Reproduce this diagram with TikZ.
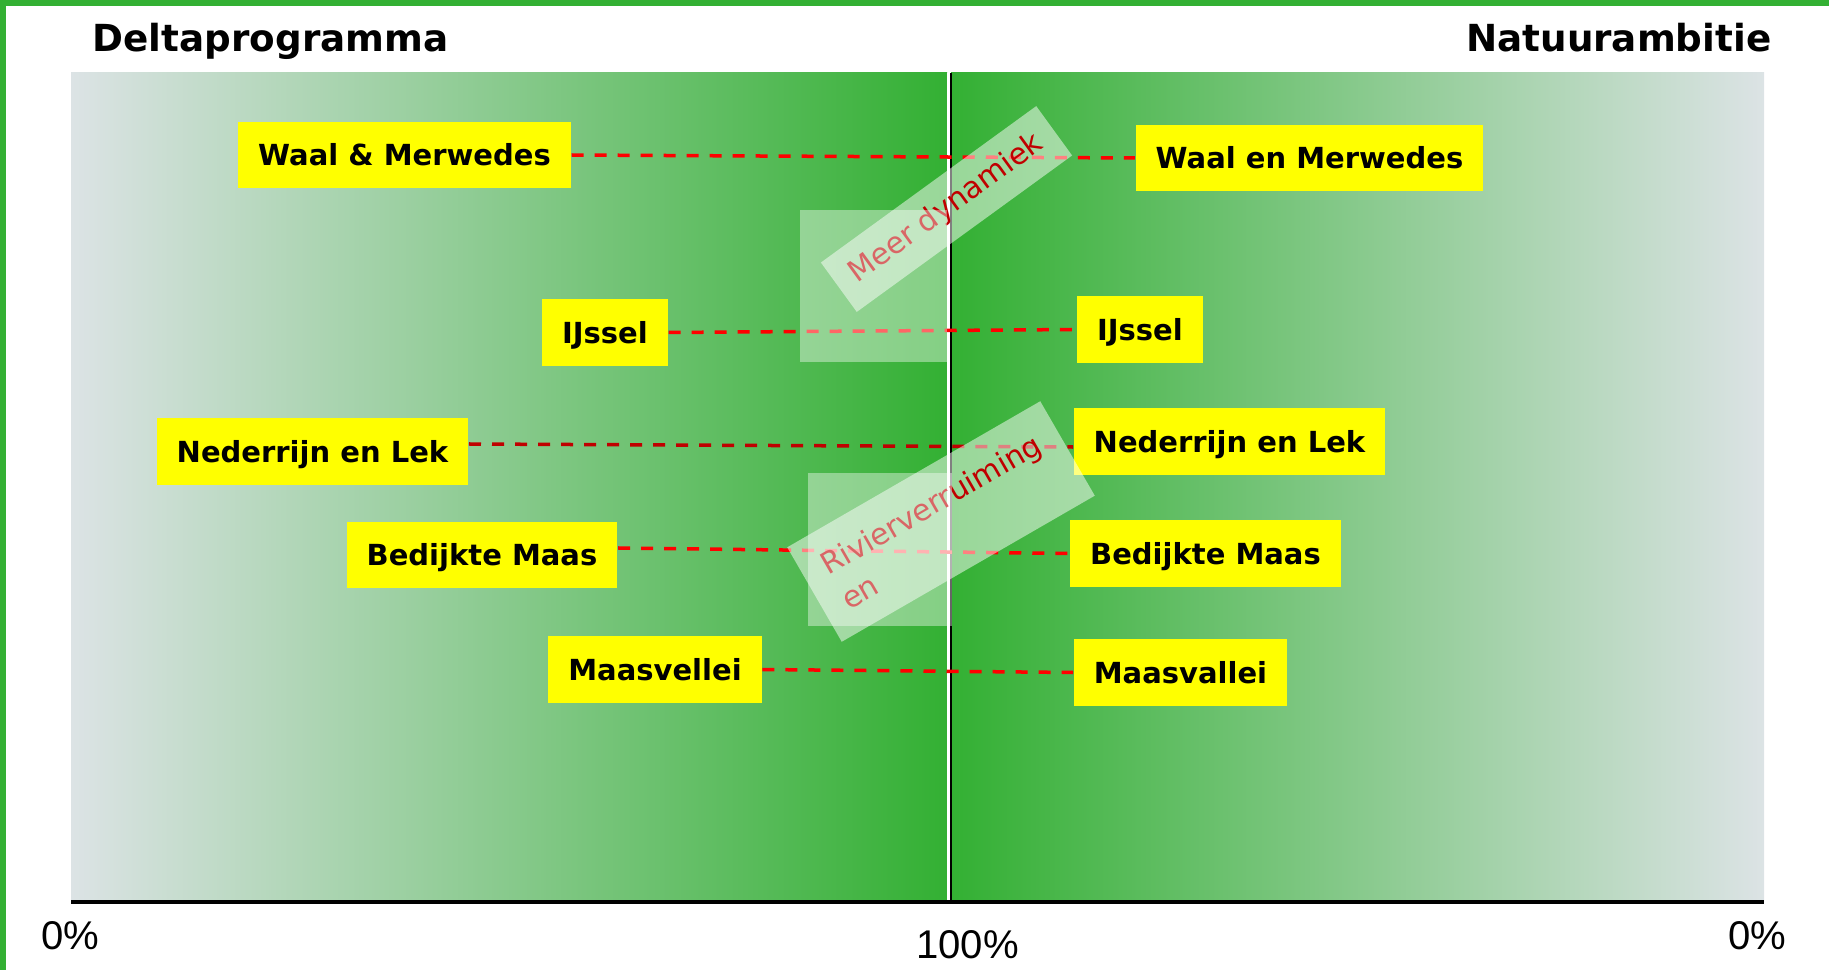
\documentclass[tikz,border=0pt]{standalone}
\usepackage{fontspec}
\setmainfont{DejaVu Sans}
\newfontfamily\pctfamily{Liberation Sans}
\usepackage{tikz}
\definecolor{natgreen}{RGB}{51,176,51}
\definecolor{palegrey}{RGB}{220,227,229}
\definecolor{darkred}{RGB}{192,0,0}
\definecolor{boxyellow}{RGB}{255,255,0}
\definecolor{linkred}{RGB}{255,0,0}
\newcommand{\headfnt}{\fontsize{10.6pt}{12pt}\selectfont\bfseries}
\newcommand{\riverfnt}{\fontsize{8.25pt}{10pt}\selectfont\bfseries}
\newcommand{\bandfnt}{\fontsize{8.5pt}{11.4pt}\selectfont}
\newcommand{\pctfnt}{\pctfamily\fontsize{11.4pt}{13pt}\selectfont}

\begin{document}
\begin{tikzpicture}[x=0.01cm, y=-0.01cm,
    riverbox/.style={fill=boxyellow, font=\riverfnt, inner xsep=0.2cm, inner ysep=0pt,
                     minimum height=0.66cm, text height=0.21cm, text depth=0pt},
    dashlink/.style={linkred, line width=0.035cm, dash pattern=on 0.12cm off 0.11cm},
    veil/.style={fill=white, fill opacity=0.5, text opacity=1, text=darkred,
                 font=\bandfnt, inner sep=0pt},
    pane/.style={fill=white, fill opacity=0.4}]
                    \useasboundingbox (0,0) rectangle (1829,970);
                    \fill [natgreen] (0,0) rectangle (6,970);
                    \fill [natgreen] (0,0) rectangle (1829,6);
                    \shade [left color=palegrey, right color=natgreen] (71,73) rectangle (947,899);
                    \shade [left color=natgreen, right color=palegrey] (951,73) rectangle (1764,902);
                    \draw [white, line width=0.03cm] (948.5,73) -- (948.5,900);
                    \draw [black, line width=0.02cm] (951,73) -- (951,903);
                    \draw [line width=0.04cm] (71,902) -- (1764,902);
                    \node [anchor=base west, inner sep=0pt, font=\headfnt] (deltatitle) at (92,52) {Deltaprogramma};
                    \node [anchor=base east, inner sep=0pt, font=\headfnt] (natuurtitle) at (1772,52) {Natuurambitie};
                    \node [font=\pctfnt] (pctleft) at (70.5,936) {0\%};
                    \node [font=\pctfnt] (pctmid) at (967.5,945) {100\%};
                    \node [font=\pctfnt] (pctright) at (1757,936) {0\%};
                    \node [riverbox] (lwaal) at (404.5,155) {Waal \& Merwedes};
                    \node [riverbox] (lijssel) at (605,332.5) {IJssel};
                    \node [riverbox] (lneder) at (312.5,451.5) {Nederrijn en Lek};
                    \node [riverbox] (lbedijkt) at (482,555) {Bedijkte Maas};
                    \node [riverbox] (lmaas) at (655,669.5) {Maasvellei};
                    \node [riverbox] (rwaal) at (1309.5,158) {Waal en Merwedes};
                    \node [riverbox] (rijssel) at (1140,329.5) {IJssel};
                    \node [riverbox] (rneder) at (1229.5,441.5) {Nederrijn en Lek};
                    \node [riverbox] (rbedijkt) at (1205.5,553.5) {Bedijkte Maas};
                    \node [riverbox] (rmaas) at (1180.5,672.5) {Maasvallei};
                    \draw [dashlink] (lwaal.east) -- (rwaal.west);
                    \draw [dashlink] (lijssel.east) -- (rijssel.west);
                    \draw [dashlink, darkred] ([yshift=0.075cm]lneder.east) -- ([yshift=-0.055cm]rneder.west);
                    \draw [dashlink] ([yshift=0.07cm]lbedijkt.east) -- (rbedijkt.west);
                    \draw [dashlink] (lmaas.east) -- (rmaas.west);
                    \node [veil, rotate=36, minimum width=2.66cm, minimum height=0.61cm] (dynamiek) at (946.5,209) {Meer dynamiek};
                    \node [veil, rotate=30, minimum width=2.92cm, minimum height=1.09cm, align=left] (verruiming) at (941,521.5) {Rivierverruiming\\en};
                    \fill [pane] (800,210) rectangle (947,362);
                    \fill [pane] (808,473) rectangle (952,626);
                \end{tikzpicture}
\end{document}
